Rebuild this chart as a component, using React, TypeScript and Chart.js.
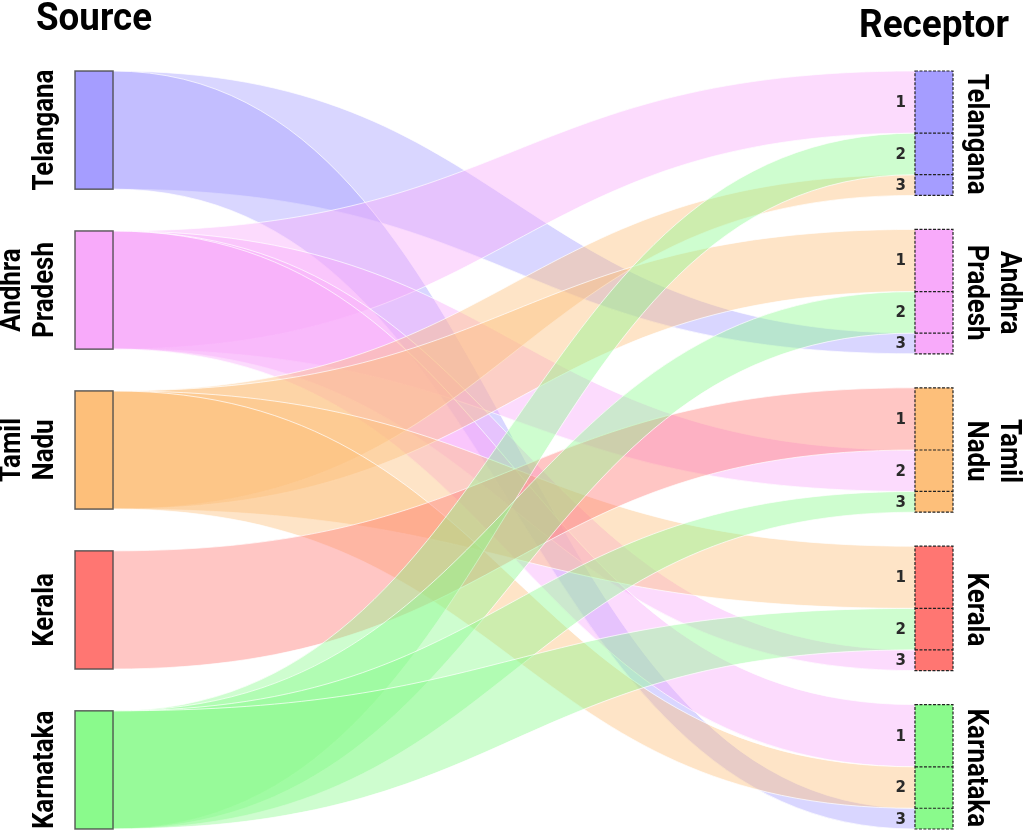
import React, { useEffect, useRef } from 'react';
import { Chart, registerables } from 'chart.js';

Chart.register(...registerables);

// ---------------- data ----------------
const sources = ['Telangana', 'Andhra Pradesh', 'Tamil Nadu', 'Kerala', 'Karnataka'];
const receptors = ['Telangana', 'Andhra Pradesh', 'Tamil Nadu', 'Kerala', 'Karnataka'];
const rankLabels = ['1', '2', '3'];
const rankWeights = [3, 2, 1];
// which source feeds each receptor at rank 1 / 2 / 3 (receptor order as above)
const rank1From = ['Andhra Pradesh', 'Tamil Nadu', 'Kerala', 'Tamil Nadu', 'Andhra Pradesh'];
const rank2From = ['Karnataka', 'Karnataka', 'Andhra Pradesh', 'Karnataka', 'Tamil Nadu'];
const rank3From = ['Tamil Nadu', 'Telangana', 'Karnataka', 'Andhra Pradesh', 'Telangana'];
const nodeColors = ['#a59dff', '#f8aafa', '#fdbf7a', '#ff7672', '#8afa8c'];
const titles = ['Source', 'Receptor'];

// ---------------- layout / style ----------------
const NODE_W = 0.0433; // node width in x-scale units (0..1)
const SOURCE_SCALE = 0.95; // source node height relative to receptor node
const RECEPTOR_GAP = 1.64; // gap between receptor nodes in value units
const FLOW_ALPHA = 0.42;

function rgba(hex: string, a: number) {
  const n = parseInt(hex.slice(1), 16);
  return `rgba(${(n >> 16) & 255},${(n >> 8) & 255},${n & 255},${a})`;
}

function layout() {
  const nodeVal = rankWeights.reduce((a, b) => a + b, 0);
  const total = receptors.length * nodeVal + (receptors.length - 1) * RECEPTOR_GAP;
  const srcH = nodeVal * SOURCE_SCALE;
  const srcGap = (total - sources.length * srcH) / (sources.length - 1);
  const srcNodes = sources.map((_, i) => ({ top: i * (srcH + srcGap), bot: i * (srcH + srcGap) + srcH }));
  const recNodes = receptors.map((_, i) => {
    const top = i * (nodeVal + RECEPTOR_GAP);
    let acc = top;
    const slots = rankWeights.map((w) => {
      const s = { top: acc, bot: acc + w };
      acc += w;
      return s;
    });
    return { top, bot: top + nodeVal, slots };
  });
  const rankFrom = [rank1From, rank2From, rank3From];
  const flows: { s: number; r: number; k: number }[] = [];
  receptors.forEach((_, r) => {
    rankFrom.forEach((arr, k) => {
      flows.push({ s: sources.indexOf(arr[r]), r, k });
    });
  });
  flows.sort((a, b) => a.s - b.s || a.r - b.r);
  return { total, srcNodes, recNodes, flows };
}

const L = layout();

const sankeyPlugin = {
  id: 'sankeyDraw',
  beforeDatasetsDraw(chart: any) {
    const { ctx, scales } = chart;
    const xs = scales.x;
    const ys = scales.y;
    const x0 = xs.getPixelForValue(NODE_W);
    const x1 = xs.getPixelForValue(1 - NODE_W);
    const xm = (x0 + x1) / 2;
    ctx.save();
    // flows
    L.flows.forEach((f) => {
      const sn = L.srcNodes[f.s];
      const slot = L.recNodes[f.r].slots[f.k];
      const sT = ys.getPixelForValue(sn.top);
      const sB = ys.getPixelForValue(sn.bot);
      const dT = ys.getPixelForValue(slot.top);
      const dB = ys.getPixelForValue(slot.bot);
      ctx.beginPath();
      ctx.moveTo(x0, sT);
      ctx.bezierCurveTo(xm, sT, xm, dT, x1, dT);
      ctx.lineTo(x1, dB);
      ctx.bezierCurveTo(xm, dB, xm, sB, x0, sB);
      ctx.closePath();
      ctx.fillStyle = rgba(nodeColors[f.s], FLOW_ALPHA);
      ctx.fill();
      ctx.strokeStyle = 'rgba(255,255,255,0.7)';
      ctx.lineWidth = 1;
      ctx.beginPath();
      ctx.moveTo(x0, sT);
      ctx.bezierCurveTo(xm, sT, xm, dT, x1, dT);
      ctx.moveTo(x0, sB);
      ctx.bezierCurveTo(xm, sB, xm, dB, x1, dB);
      ctx.stroke();
    });
    // source nodes
    const sx0 = xs.getPixelForValue(0);
    L.srcNodes.forEach((n, i) => {
      const t = ys.getPixelForValue(n.top);
      const b = ys.getPixelForValue(n.bot);
      ctx.fillStyle = nodeColors[i];
      ctx.fillRect(sx0, t, x0 - sx0, b - t);
      ctx.strokeStyle = 'rgba(70,70,70,0.85)';
      ctx.lineWidth = 1.5;
      ctx.strokeRect(sx0, t, x0 - sx0, b - t);
    });
    // receptor nodes
    const rx1 = xs.getPixelForValue(1);
    L.recNodes.forEach((n, i) => {
      const t = ys.getPixelForValue(n.top);
      const b = ys.getPixelForValue(n.bot);
      ctx.fillStyle = nodeColors[i];
      ctx.fillRect(x1, t, rx1 - x1, b - t);
      ctx.setLineDash([3, 1.5]);
      ctx.strokeStyle = '#222';
      ctx.lineWidth = 1.2;
      ctx.strokeRect(x1, t, rx1 - x1, b - t);
      n.slots.forEach((s, k) => {
        const st = ys.getPixelForValue(s.top);
        const sb = ys.getPixelForValue(s.bot);
        if (k > 0) {
          ctx.beginPath();
          ctx.moveTo(x1, st);
          ctx.lineTo(rx1, st);
          ctx.stroke();
        }
        ctx.fillStyle = '#2a2a2a';
        ctx.font = 'bold 15px "DejaVu Sans", sans-serif';
        ctx.textAlign = 'right';
        ctx.textBaseline = 'middle';
        ctx.fillText(rankLabels[k], x1 - 9, (st + sb) / 2 + 1);
      });
      ctx.setLineDash([]);
    });
    ctx.restore();
  },
  afterDraw(chart: any) {
    const { ctx, scales, chartArea } = chart;
    const ys = scales.y;
    ctx.save();
    ctx.fillStyle = '#000';
    // titles
    ctx.font = 'bold 39px Roboto';
    ctx.textBaseline = 'alphabetic';
    const fitTitle = (txt: string, x: number, yb: number, w: number, align: 'left' | 'right') => {
      const m = ctx.measureText(txt).width;
      const sx = w / m;
      ctx.save();
      ctx.translate(x, yb);
      ctx.scale(sx, 1);
      ctx.textAlign = align;
      ctx.fillText(txt, 0, 0);
      ctx.restore();
    };
    fitTitle(titles[0], chartArea.left - 39, 29.5, 116, 'left');
    fitTitle(titles[1], chartArea.right + 56, 36.5, 150, 'right');

    // node labels
    ctx.font = 'bold 30px Roboto';
    const labScale = 121 / ctx.measureText('Telangana').width;
    const lineGap = 33;
    const drawLabel = (name: string, bx: number, cy: number, rot: number) => {
      const lines = name.split(' ');
      const n = lines.length;
      ctx.save();
      ctx.translate(bx, cy);
      ctx.rotate(rot);
      ctx.scale(labScale, 1);
      ctx.textAlign = 'center';
      ctx.textBaseline = 'alphabetic';
      lines.forEach((ln, i) => ctx.fillText(ln, 0, (i - (n - 1)) * lineGap));
      ctx.restore();
    };
    L.srcNodes.forEach((nd, i) => {
      const cy = (ys.getPixelForValue(nd.top) + ys.getPixelForValue(nd.bot)) / 2;
      drawLabel(sources[i], chartArea.left - 22, cy, -Math.PI / 2);
    });
    L.recNodes.forEach((nd, i) => {
      const cy = (ys.getPixelForValue(nd.top) + ys.getPixelForValue(nd.bot)) / 2;
      drawLabel(receptors[i], chartArea.right + 15, cy + 1, Math.PI / 2);
    });
    ctx.restore();
  },
};

export default function App() {
  const ref = useRef<HTMLCanvasElement | null>(null);
  useEffect(() => {
    document.body.style.margin = '0';
    const canvas = ref.current!;
    const chart = new Chart(canvas, {
      type: 'scatter',
      data: {
        datasets: [
          {
            label: 'nodes',
            data: L.srcNodes.map((n) => ({ x: 0, y: (n.top + n.bot) / 2 })),
            pointRadius: 0,
            showLine: false,
          },
        ],
      },
      options: {
        responsive: false,
        animation: false,
        devicePixelRatio: 1,
        layout: { padding: { left: 75, right: 71, top: 71, bottom: 1 } },
        plugins: { legend: { display: false }, tooltip: { enabled: false }, title: { display: false } },
        scales: {
          x: { type: 'linear', min: 0, max: 1, display: false },
          y: { type: 'linear', min: 0, max: L.total, reverse: true, display: false },
        },
      },
      plugins: [sankeyPlugin],
    });
    return () => chart.destroy();
  }, []);
  return (
    <canvas ref={ref} width={1024} height={830} style={{ display: 'block', width: 1024, height: 830 }} />
  );
}
